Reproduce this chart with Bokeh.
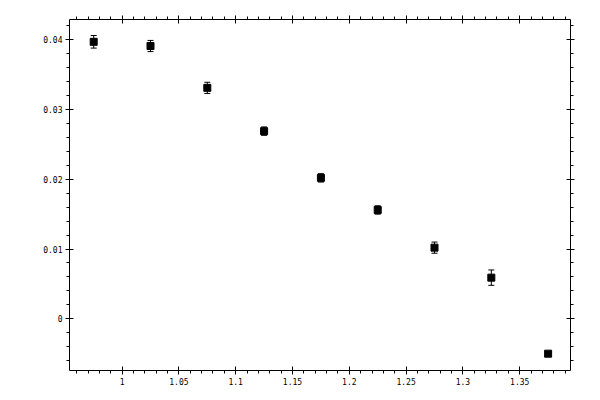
import numpy as np
from bokeh.plotting import figure
from bokeh.models import (ColumnDataSource, Whisker, TeeHead, Range1d, LinearAxis,
                          FixedTicker, CustomJSTickFormatter)
from bokeh.embed import file_html
from bokeh.resources import INLINE

# data
x_vals = [0.975, 1.025, 1.075, 1.125, 1.175, 1.225, 1.275, 1.325, 1.375]
y_vals = [0.0397, 0.0391, 0.0331, 0.0269, 0.0202, 0.0156, 0.0102, 0.0059, -0.0050]
y_errs = [0.0009, 0.0008, 0.0008, 0.0006, 0.0006, 0.0006, 0.0008, 0.0011, 0.0003]

x_ticks = [1.0, 1.05, 1.1, 1.15, 1.2, 1.25, 1.3, 1.35]
y_ticks = [0.0, 0.01, 0.02, 0.03, 0.04]
x_minor = [round(v, 3) for v in np.arange(0.96, 1.395, 0.01)]
y_minor = [round(v, 4) for v in np.arange(-0.006, 0.0425, 0.002)]

src = ColumnDataSource(dict(
    x=x_vals, y=y_vals,
    lo=[y - e for y, e in zip(y_vals, y_errs)],
    hi=[y + e for y, e in zip(y_vals, y_errs)],
))

p = figure(width=592, height=392, output_backend="svg", toolbar_location=None,
           x_range=Range1d(0.9537, 1.3947), y_range=Range1d(-0.00741, 0.0429),
           min_border_left=69, min_border_right=22, min_border_top=19, min_border_bottom=22,
           x_axis_type=None, y_axis_type=None)
p.xgrid.visible = False
p.ygrid.visible = False
p.outline_line_color = None
p.background_fill_color = "white"
p.border_fill_color = "white"

fmt_code = "const v = parseFloat(tick.toFixed(4)); return v.toString();"
empty_code = "return '';"

def style(ax, labels=True):
    ax.axis_line_color = "black"
    ax.axis_line_width = 1
    ax.major_tick_line_color = "black"
    ax.minor_tick_line_color = "black"
    ax.major_tick_in = 4
    ax.major_tick_out = 4
    ax.minor_tick_in = 0
    ax.minor_tick_out = 3
    ax.major_label_text_font = "DejaVu Sans Mono"
    ax.major_label_text_font_size = "8px"
    ax.major_label_text_color = "black"
    ax.major_label_standoff = 3
    ax.formatter = CustomJSTickFormatter(code=fmt_code if labels else empty_code)

xt = FixedTicker(ticks=x_ticks, minor_ticks=x_minor)
yt = FixedTicker(ticks=y_ticks, minor_ticks=y_minor)

bx = LinearAxis(ticker=xt); style(bx); p.add_layout(bx, "below")
tx = LinearAxis(ticker=FixedTicker(ticks=x_ticks, minor_ticks=x_minor)); style(tx, False); p.add_layout(tx, "above")
ly = LinearAxis(ticker=yt); style(ly); p.add_layout(ly, "left")
ry = LinearAxis(ticker=FixedTicker(ticks=y_ticks, minor_ticks=y_minor)); style(ry, False); p.add_layout(ry, "right")

w = Whisker(source=src, base="x", lower="lo", upper="hi", line_color="black", line_width=1,
            upper_head=TeeHead(size=6, line_color="black", line_width=1),
            lower_head=TeeHead(size=6, line_color="black", line_width=1))
p.add_layout(w)
p.scatter("x", "y", source=src, marker="square", size=7, color="black")

open("out.html", "w").write(file_html(p, INLINE))
